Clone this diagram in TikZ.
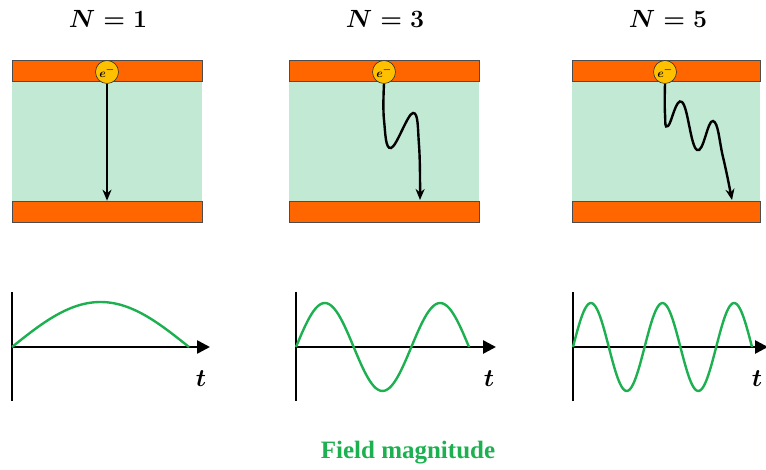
\documentclass[tikz,border=0pt]{standalone}
\usepackage{fontspec}
\usetikzlibrary{arrows.meta}
\newfontfamily\captionfont{Liberation Serif}
\definecolor{plateorange}{HTML}{FF6600}
\definecolor{gapgreen}{HTML}{C2E9D4}
\definecolor{eyellow}{HTML}{FFC000}
\definecolor{fieldgreen}{HTML}{1DB050}
\begin{document}
\begin{tikzpicture}[x=1pt,y=-1pt,
  plate/.style={rectangle,fill=plateorange,draw=black!70,line width=0.6pt,minimum width=190pt,minimum height=21pt,inner sep=0pt},
  gap/.style={fill=gapgreen},
  electron/.style={circle,fill=eyellow,draw=black!80,line width=0.6pt,minimum size=23pt,inner sep=0pt,font=\fontsize{13}{14}\selectfont\boldmath},
  track/.style={line width=2.4pt,-{Stealth[length=11pt,width=9pt]}},
  vaxis/.style={line width=2.6pt},
  taxis/.style={line width=2.6pt,-{Triangle[length=13pt,width=13pt]}},
  field/.style={fieldgreen,line width=2.4pt},
  title/.style={font=\fontsize{23}{26}\selectfont\boldmath},
  tlabel/.style={font=\fontsize{25}{26}\selectfont\boldmath}]
\useasboundingbox (0,0) rectangle (766,470);
% capacitors
\fill[gap] (12,81) rectangle (202,201);
\fill[gap] (289,81) rectangle (479,201);
\fill[gap] (572,81) rectangle (760,201);
\node[plate] (top1) at (107,70.5) {};
\node[plate] (bot1) at (107,211.5) {};
\node[plate] (top2) at (384,70.5) {};
\node[plate] (bot2) at (384,211.5) {};
\node[plate,minimum width=188pt] (top3) at (666,70.5) {};
\node[plate,minimum width=188pt] (bot3) at (666,211.5) {};
% titles
\node[title] (n1) at (108,19) {$N=1$};
\node[title] (n3) at (385,19) {$N=3$};
\node[title] (n5) at (668,19) {$N=5$};
% electrons and their paths
\node[electron] (e1) at (107,72) {$e^{-}$};
\node[electron] (e2) at (384,72) {$e^{-}$};
\node[electron] (e3) at (665,72) {$e^{-}$};
\draw[track] (e1.south) -- (e1.south |- bot1.north);
\draw[track] plot[smooth,tension=0.7] coordinates {(e2.south) (384,120) (391,148) (413,113) (419,145) (420,200)};
\draw[track] plot[smooth,tension=0.75] coordinates {(e3.south) (665,114) (668,126) (682,102) (697,150) (713,121) (723,157) (732,200)};
% field plots
\draw[vaxis] (12,292) -- (12,401);
\draw[taxis] (12,347) -- (210,347);
\draw[field] plot[domain=0:177,samples=60] ({12+\x},{347-45*sin(\x/177*180)});
\node[tlabel] (t1) at (201,379) {$t$};
\draw[vaxis] (296,292) -- (296,401);
\draw[taxis] (296,347) -- (496,347);
\draw[field] plot[domain=0:173,samples=90] ({296+\x},{347-44*sin(\x/57.67*180)});
\node[tlabel] (t2) at (489,379) {$t$};
\draw[vaxis] (573,292) -- (573,401);
\draw[taxis] (573,347) -- (768,347);
\draw[field] plot[domain=0:179,samples=120] ({573+\x},{347-44*sin(\x/35.8*180)});
\node[tlabel] (t3) at (757,379) {$t$};
% caption
\node[font=\captionfont\bfseries\fontsize{25}{28}\selectfont,text=fieldgreen] (cap) at (408,453) {Field magnitude};
\end{tikzpicture}
\end{document}
